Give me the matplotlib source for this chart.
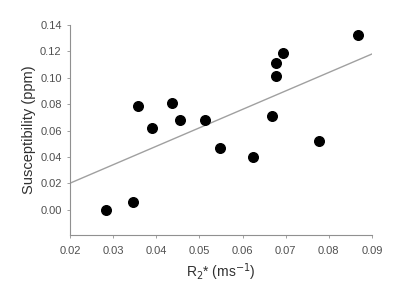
import numpy as np
import matplotlib
matplotlib.use("Agg")
import matplotlib.pyplot as plt
from matplotlib.ticker import FormatStrFormatter

# R2* (ms^-1) and susceptibility (ppm)
r2_star = [0.0283, 0.0345, 0.0357, 0.0391, 0.0436, 0.0455, 0.0514, 0.0548,
           0.0624, 0.0668, 0.0678, 0.0678, 0.0694, 0.0778, 0.0868]
suscept = [0.000, 0.006, 0.079, 0.062, 0.081, 0.068, 0.068, 0.047,
           0.040, 0.071, 0.101, 0.1115, 0.119, 0.052, 0.132]

# regression line end points
line_x = [0.02, 0.09]
line_y = [0.0202, 0.118]

x_ticks = [0.02, 0.03, 0.04, 0.05, 0.06, 0.07, 0.08, 0.09]
y_ticks = [0.00, 0.02, 0.04, 0.06, 0.08, 0.10, 0.12, 0.14]

plt.rcParams['font.family'] = ['Liberation Sans', 'DejaVu Sans']

fig = plt.figure(figsize=(4, 2.93), dpi=100)
ax = fig.add_axes([0.175, 0.198, 0.755, 0.717])

ax.plot(line_x, line_y, color='#a0a0a0', lw=1.0, zorder=1)
ax.scatter(r2_star, suscept, s=48, color='black', zorder=2)

ax.set_xlim(0.02, 0.09)
ax.set_ylim(-0.019, 0.14)
ax.set_xticks(x_ticks)
ax.set_yticks(y_ticks)
ax.xaxis.set_major_formatter(FormatStrFormatter('%.2f'))
ax.yaxis.set_major_formatter(FormatStrFormatter('%.2f'))

for s in ['top', 'right']:
    ax.spines[s].set_visible(False)
for s in ['left', 'bottom']:
    ax.spines[s].set_color('#909090')
    ax.spines[s].set_linewidth(0.8)
ax.tick_params(colors='#505050', labelsize=8, length=2, width=0.6, color='#909090')
ax.tick_params(axis='x', pad=6)
ax.tick_params(axis='y', pad=4)

ax.set_xlabel('R$_2$* (ms$^{-1}$)', fontsize=10, color='#303030', labelpad=4)
ax.set_ylabel('Susceptibility (ppm)', fontsize=10.5, color='#303030', labelpad=3)

fig.savefig('out.png', dpi=100)
